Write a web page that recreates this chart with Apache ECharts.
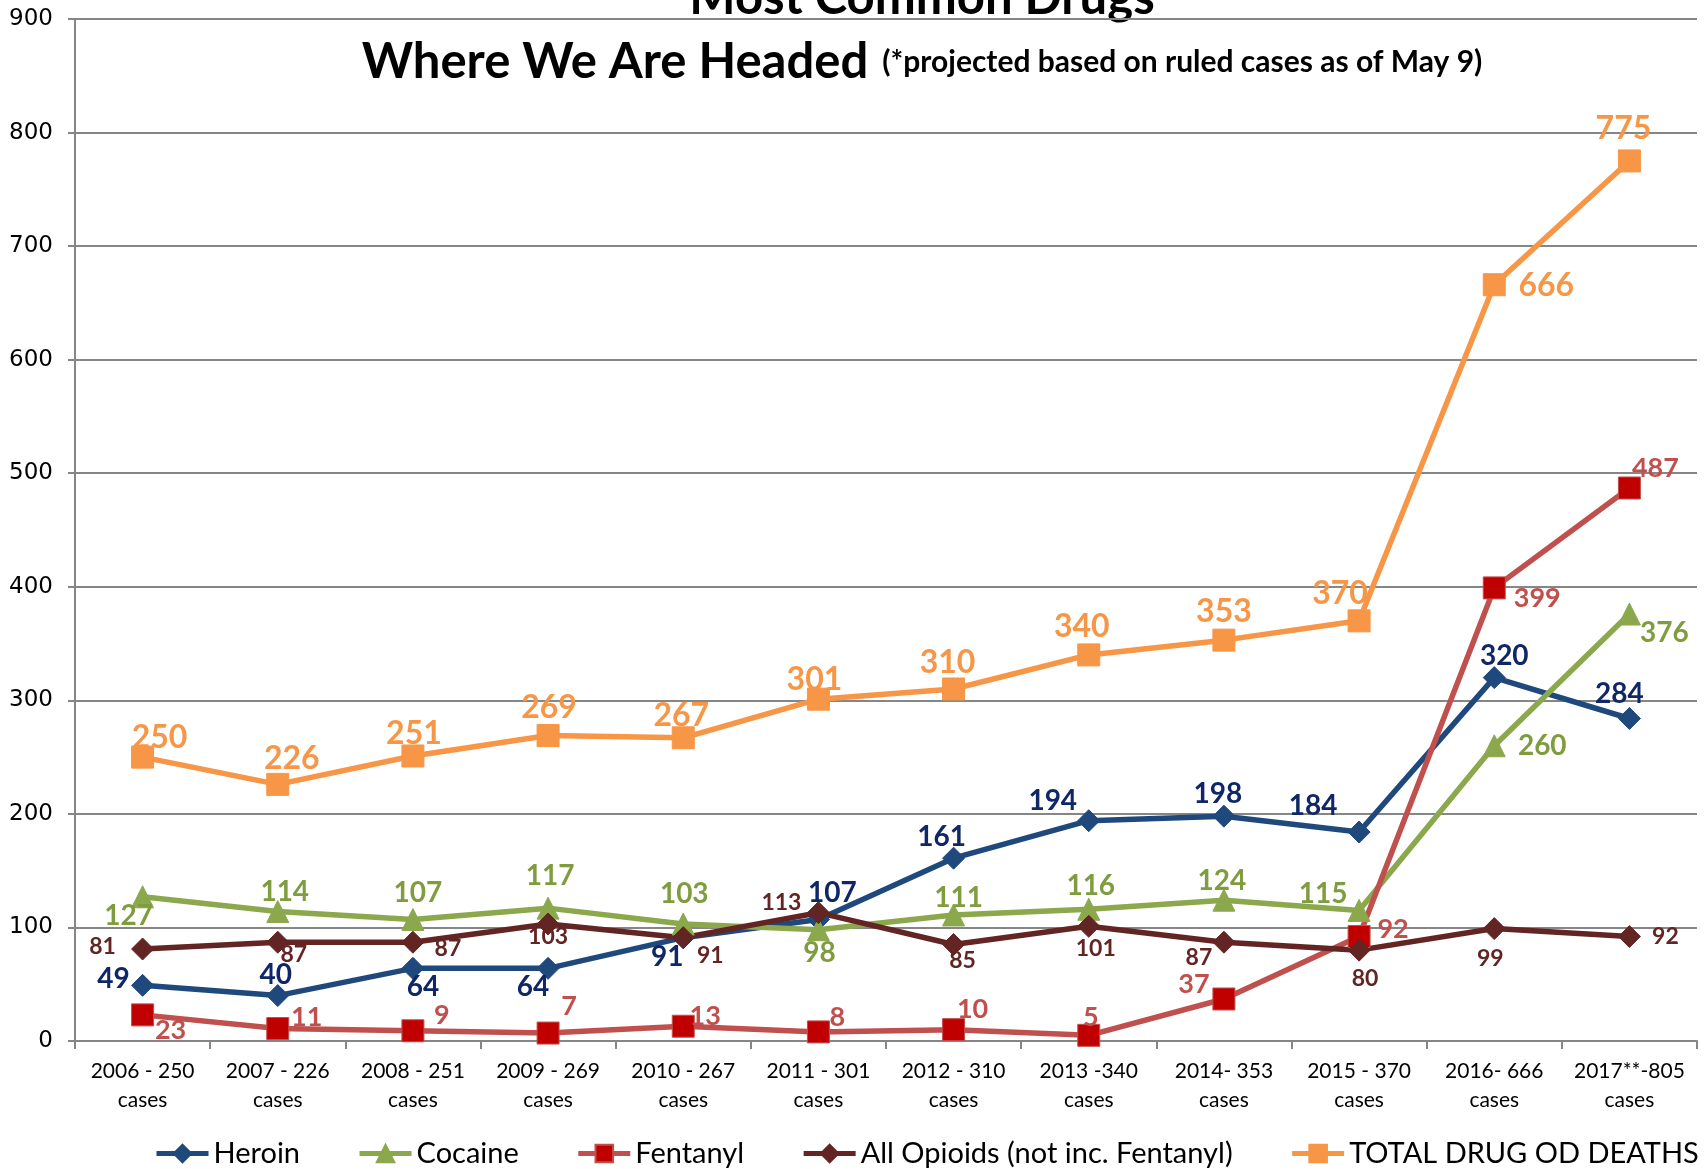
<!DOCTYPE html>
<html>
<head>
<meta charset="utf-8">
<title>Most Common Drugs</title>
<script src="https://cdn.jsdelivr.net/npm/echarts@6.0.0/dist/echarts.min.js"></script>
<style>
  html, body { margin: 0; padding: 0; background: #fff; }
  #chart { width: 1705px; height: 1169px; }
</style>
</head>
<body>
<div id="chart"></div>
<script>
// categories (x axis)
var years = [
  "2006 - 250\ncases", "2007 - 226\ncases", "2008 - 251\ncases", "2009 - 269\ncases",
  "2010 - 267\ncases", "2011 - 301\ncases", "2012 - 310\ncases", "2013 -340\ncases",
  "2014- 353\ncases", "2015 - 370\ncases", "2016- 666\ncases", "2017**-805\ncases"
];

// series values
var heroin   = [49, 40, 64, 64, 91, 107, 161, 194, 198, 184, 320, 284];
var cocaine  = [127, 114, 107, 117, 103, 98, 111, 116, 124, 115, 260, 376];
var fentanyl = [23, 11, 9, 7, 13, 8, 10, 5, 37, 92, 399, 487];
var opioids  = [81, 87, 87, 103, 91, 113, 85, 101, 87, 80, 99, 92];
var total    = [250, 226, 251, 269, 267, 301, 310, 340, 353, 370, 666, 775];

// label offsets from each marker (style only)
var heroinOff = [[-29,-6],[-2,-21],[10,19],[-15,19],[-16,19],[14,-27],[-12,-21],[-36,-20],[-6,-22],[-46,-26],[10,-22],[-10,-25]];
var cocaineOff = [[-14,19],[7,-20],[5,-27],[2,-32],[1,-30],[1,23],[5,-17],[2,-23],[-2,-19],[-36,-16],[48,0],[35,19]];
var fentanylOff = [[28,15],[29,-11],[29,-15],[21,-27],[22,-10],[19,-15],[19,-20],[2,-18],[-30,-15],[34,-7],[43,10],[26,-20]];
var opioidsOff = [[-40,-2],[16,12],[35,6],[0,13],[27,18],[-37,-10],[9,16],[7,22],[-25,15],[6,28],[-4,30],[36,0]];
var totalOff = [[17,-19],[14,-26],[1,-22],[1,-28],[-2,-22],[-4,-20],[-6,-26],[-7,-28],[0,-28],[-19,-27],[52,1],[-6,-32]];

var chart = echarts.init(document.getElementById("chart"));

function makeSeries(name, values, offs, lineColor, fillColor, labelColor, symbol, symbolSize, fontSize) {
  return {
    name: name,
    type: "line",
    data: values.map(function (v, i) {
      return { value: v, label: { offset: offs[i] } };
    }),
    symbol: symbol,
    symbolSize: symbolSize,
    showAllSymbol: true,
    lineStyle: { color: lineColor, width: 5.5 },
    itemStyle: { color: fillColor, borderColor: lineColor, borderWidth: 1 },
    label: {
      show: true,
      position: "inside",
      color: labelColor,
      fontFamily: "Lato",
      fontWeight: "bold",
      fontSize: fontSize,
      textBorderWidth: 0
    },
    emphasis: { disabled: true }
  };
}

chart.setOption({
  animation: false,
  backgroundColor: "#fff",
  graphic: [
    {
      type: "text",
      style: {
        x: 922, y: -2,
        text: "Most Common Drugs",
        font: "bold 49px Lato",
        fill: "#000",
        align: "center",
        verticalAlign: "middle"
      }
    },
    {
      type: "text",
      style: {
        x: 922, y: 62,
        text: "{a|Where We Are Headed}{b|(*projected based on ruled cases as of May 9)}",
        rich: {
          a: { fontFamily: "Lato", fontWeight: "bold", fontSize: 49, fill: "#000", color: "#000" },
          b: { fontFamily: "Lato", fontWeight: "bold", fontSize: 30, fill: "#000", color: "#000", padding: [0, 0, 0, 14] }
        },
        align: "center",
        verticalAlign: "middle"
      }
    }
  ],
  legend: {
    left: 154,
    top: 1139,
    width: 1600,
    padding: 0,
    itemWidth: 52,
    itemHeight: 22,
    itemGap: 57,
    lineStyle: { width: 5 },
    textStyle: { fontFamily: "Lato", fontSize: 29, color: "#000" },
    data: ["Heroin", "Cocaine", "Fentanyl", "All Opioids (not inc. Fentanyl)", "TOTAL DRUG OD DEATHS"]
  },
  grid: { left: 75, right: 8, top: 19, bottom: 128 },
  xAxis: {
    type: "category",
    data: years,
    axisLine: { lineStyle: { color: "#868686", width: 2 } },
    axisTick: { show: true, length: 8, lineStyle: { color: "#868686", width: 2 } },
    axisLabel: {
      interval: 0,
      margin: 16,
      fontFamily: "Lato",
      fontSize: 21,
      lineHeight: 29,
      color: "#000"
    },
    splitLine: { show: false }
  },
  yAxis: {
    type: "value",
    min: 0,
    max: 900,
    interval: 100,
    axisLine: { show: true, lineStyle: { color: "#868686", width: 2 } },
    axisTick: { show: true, length: 7, lineStyle: { color: "#868686", width: 2 } },
    axisLabel: {
      margin: 22,
      fontFamily: "DejaVu Sans",
      fontSize: 23,
      color: "#000"
    },
    splitLine: { lineStyle: { color: "#868686", width: 2 } }
  },
  series: [
    makeSeries("Heroin", heroin, heroinOff, "#1F497D", "#1F497D", "#0F2767", "diamond", 22, 28),
    makeSeries("Cocaine", cocaine, cocaineOff, "#8BA84C", "#8BA84C", "#7F9C3F", "triangle", 22, 28),
    makeSeries("Fentanyl", fentanyl, fentanylOff, "#C0504D", "#C00000", "#C0504D", "rect", 22, 27),
    makeSeries("All Opioids (not inc. Fentanyl)", opioids, opioidsOff, "#632523", "#632523", "#632523", "diamond", 22, 23),
    makeSeries("TOTAL DRUG OD DEATHS", total, totalOff, "#F79646", "#F79646", "#F79646", "rect", 22, 32)
  ]
});
</script>
</body>
</html>
